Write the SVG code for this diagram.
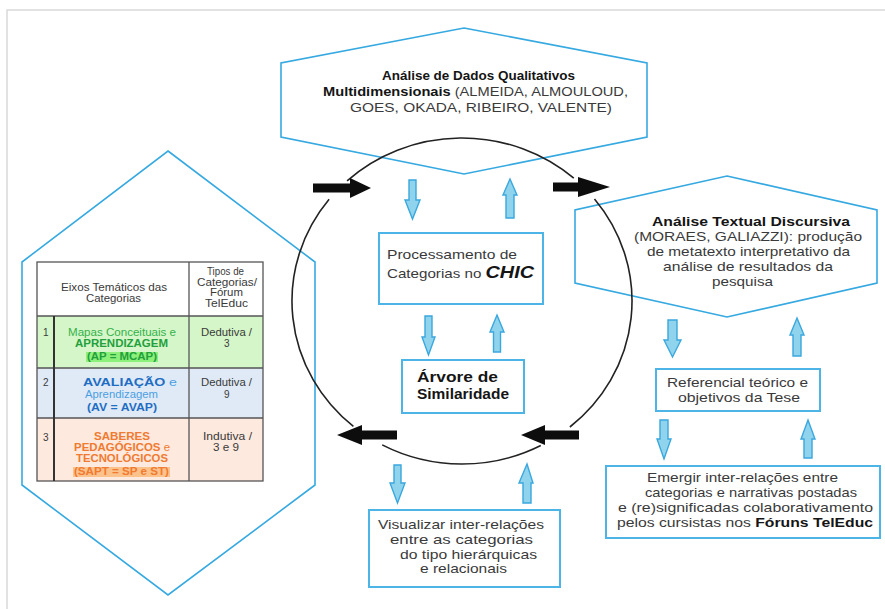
<svg xmlns="http://www.w3.org/2000/svg" width="885" height="609" viewBox="0 0 885 609">
<style>
text{font-family:"Liberation Sans",Arial,sans-serif;fill:#3a3a3a}
.b{font-weight:bold;fill:#151515}
.hex{fill:#fff;stroke:#36a9e1;stroke-width:1.6}
.box{fill:#fff;stroke:#4cb4e7;stroke-width:2}
.ba{fill:#8fd4ec;stroke:#3aa7de;stroke-width:1.4}
.ka{fill:#0d0d0d}
.circ{fill:none;stroke:#222;stroke-width:1.6}
.t13{font-size:13px}
.tb{font-size:10px}
.g{fill:#35b24b}.gb{fill:#22a03c;font-weight:bold}
.bl{fill:#4c9fe2}.blb{fill:#1f6ec3;font-weight:bold}
.or{fill:#f07a30}.orb{fill:#f07a30;font-weight:bold}
.tl{stroke:#555;stroke-width:1.3;fill:none}
</style>
<rect x="0" y="0" width="885" height="609" fill="#fff"/>
<rect x="7" y="10" width="900" height="620" fill="none" stroke="#d9d9d9" stroke-width="1.5"/>

<g id="hex-left">
<polygon class="hex" points="168,151 315,262 315,485 168,595 22,485 22,262"/>
</g>
<g id="table">
<rect x="37" y="262" width="226" height="54" fill="#fff"/>
<rect x="37" y="316" width="226" height="52" fill="#d4f6c8"/>
<rect x="37" y="368" width="226" height="50" fill="#dfeaf6"/>
<rect x="37" y="418" width="226" height="63" fill="#fde9de"/>
<rect x="86" y="352" width="72" height="10" fill="#8cf07a"/>
<rect x="73" y="467" width="97" height="10" fill="#fcc28c"/>
<rect class="tl" x="37" y="262" width="226" height="219"/>
<line class="tl" x1="189" y1="262" x2="189" y2="481"/>
<line class="tl" x1="37" y1="316" x2="263" y2="316"/>
<line class="tl" x1="37" y1="368" x2="263" y2="368"/>
<line class="tl" x1="37" y1="418" x2="263" y2="418"/>
<line x1="54" y1="316" x2="54" y2="481" stroke="#333" stroke-width="2"/>
<g class="tb" lengthAdjust="spacingAndGlyphs">
<text x="61" y="291" textLength="106" lengthAdjust="spacingAndGlyphs">Eixos Temáticos das</text>
<text x="86" y="302" textLength="55" lengthAdjust="spacingAndGlyphs">Categorias</text>
<text x="207" y="275" textLength="37" lengthAdjust="spacingAndGlyphs">Tipos de</text>
<text x="197" y="285.5" textLength="60" lengthAdjust="spacingAndGlyphs">Categorias/</text>
<text x="210" y="296" textLength="33" lengthAdjust="spacingAndGlyphs">Fórum</text>
<text x="205" y="306.5" textLength="43" lengthAdjust="spacingAndGlyphs">TelEduc</text>
<text x="43" y="336">1</text>
<text x="68" y="336" class="g" textLength="108" lengthAdjust="spacingAndGlyphs">Mapas Conceituais e</text>
<text x="75" y="347" class="gb" textLength="93" lengthAdjust="spacingAndGlyphs">APRENDIZAGEM</text>
<text x="87" y="360" class="gb" textLength="70" lengthAdjust="spacingAndGlyphs">(AP = MCAP)</text>
<text x="201" y="336" textLength="51" lengthAdjust="spacingAndGlyphs">Dedutiva /</text>
<text x="224" y="347">3</text>
<text x="43" y="386">2</text>
<text x="83" y="386" textLength="94" lengthAdjust="spacingAndGlyphs"><tspan class="blb">AVALIAÇÃO</tspan><tspan class="bl"> e</tspan></text>
<text x="85" y="398" class="bl" textLength="73" lengthAdjust="spacingAndGlyphs">Aprendizagem</text>
<text x="87" y="411" class="blb" textLength="70" lengthAdjust="spacingAndGlyphs">(AV = AVAP)</text>
<text x="201" y="386" textLength="51" lengthAdjust="spacingAndGlyphs">Dedutiva /</text>
<text x="224" y="398">9</text>
<text x="43" y="441">3</text>
<text x="94" y="440" class="orb" textLength="56" lengthAdjust="spacingAndGlyphs">SABERES</text>
<text x="74" y="451" textLength="96" lengthAdjust="spacingAndGlyphs"><tspan class="orb">PEDAGÓGICOS</tspan><tspan class="or"> e</tspan></text>
<text x="76" y="462" class="orb" textLength="92" lengthAdjust="spacingAndGlyphs">TECNOLÓGICOS</text>
<text x="74" y="475" class="orb" textLength="95" lengthAdjust="spacingAndGlyphs">(SAPT = SP e ST)</text>
<text x="203" y="440" textLength="49" lengthAdjust="spacingAndGlyphs">Indutiva /</text>
<text x="213" y="451" textLength="26" lengthAdjust="spacingAndGlyphs">3 e 9</text>
</g>
</g>

<g id="hex-top">
<polygon class="hex" points="464,28 647,63 647,137 464,174 281,137 281,63"/>
<g class="t13">
<text x="382" y="80" class="b" textLength="193" lengthAdjust="spacingAndGlyphs">Análise de Dados Qualitativos</text>
<text x="323" y="96" textLength="305" lengthAdjust="spacingAndGlyphs"><tspan class="b">Multidimensionais</tspan> (ALMEIDA, ALMOULOUD,</text>
<text x="350" y="112" textLength="262" lengthAdjust="spacingAndGlyphs">GOES, OKADA, RIBEIRO, VALENTE)</text>
</g>
</g>

<g id="hex-right">
<polygon class="hex" points="727,176 877,210 877,283 727,317 575,283 575,210"/>
<g class="t13">
<text x="652" y="226" class="b" textLength="198" lengthAdjust="spacingAndGlyphs">Análise Textual Discursiva</text>
<text x="634" y="241" textLength="228" lengthAdjust="spacingAndGlyphs">(MORAES, GALIAZZI): produção</text>
<text x="647" y="256" textLength="203" lengthAdjust="spacingAndGlyphs">de metatexto interpretativo da</text>
<text x="663" y="271" textLength="170" lengthAdjust="spacingAndGlyphs">análise de resultados da</text>
<text x="712" y="286" textLength="61" lengthAdjust="spacingAndGlyphs">pesquisa</text>
</g>
</g>

<g id="cycle">
<path class="circ" d="M347.1,180.8 A170,163 0 0 1 573.8,178.2"/>
<path class="circ" d="M594.5,198.9 A170,163 0 0 1 569.9,427"/>
<path class="circ" d="M540.8,445.5 A170,163 0 0 1 382.2,444.9"/>
<path class="circ" d="M353.4,426.4 A170,163 0 0 1 329.1,199.3"/>
</g>

<g id="box-chic">
<rect class="box" x="379" y="233" width="164" height="71"/>
<text class="t13" x="387" y="259" textLength="130" lengthAdjust="spacingAndGlyphs">Processamento de</text>
<text class="t13" x="387" y="278" textLength="147" lengthAdjust="spacingAndGlyphs">Categorias no <tspan class="b" font-style="italic" font-size="17">CHIC</tspan></text>
</g>

<g id="box-arvore">
<rect class="box" x="402" y="360" width="122" height="53"/>
<text class="b" font-size="15" x="417" y="382" textLength="81" lengthAdjust="spacingAndGlyphs">Árvore de</text>
<text class="b" font-size="15" x="417" y="399" textLength="92" lengthAdjust="spacingAndGlyphs">Similaridade</text>
</g>

<g id="box-referencial">
<rect class="box" x="656" y="369" width="164" height="42"/>
<text class="t13" x="667" y="387" textLength="141" lengthAdjust="spacingAndGlyphs">Referencial teórico e</text>
<text class="t13" x="678" y="402" textLength="122" lengthAdjust="spacingAndGlyphs">objetivos da Tese</text>
</g>

<g id="box-emergir">
<rect class="box" x="606" y="466" width="274" height="72"/>
<g class="t13">
<text x="647" y="482" textLength="191" lengthAdjust="spacingAndGlyphs">Emergir inter-relações entre</text>
<text x="645" y="497" textLength="212" lengthAdjust="spacingAndGlyphs">categorias e narrativas postadas</text>
<text x="618" y="512" textLength="255" lengthAdjust="spacingAndGlyphs">e (re)significadas colaborativamento</text>
<text x="617" y="527" textLength="256" lengthAdjust="spacingAndGlyphs">pelos cursistas nos <tspan class="b">Fóruns TelEduc</tspan></text>
</g>
</g>

<g id="box-visualizar">
<rect class="box" x="369" y="510" width="191" height="77"/>
<g class="t13">
<text x="378" y="529" textLength="166" lengthAdjust="spacingAndGlyphs">Visualizar inter-relações</text>
<text x="390" y="544" textLength="143" lengthAdjust="spacingAndGlyphs">entre as categorias</text>
<text x="400" y="559" textLength="137" lengthAdjust="spacingAndGlyphs">do tipo hierárquicas</text>
<text x="420" y="573" textLength="87" lengthAdjust="spacingAndGlyphs">e relacionais</text>
</g>
</g>

<g id="connectors">
<polygon class="ka" points="313,183.5 350,183.5 350,178 371,188 350,198 350,192.5 313,192.5"/>
<polygon class="ka" points="553,182.5 578,182.5 578,177 610,187 578,197 578,191.5 553,191.5"/>
<polygon class="ka" points="397,430.5 362,430.5 362,425 337,435 362,445 362,439.5 397,439.5"/>
<polygon class="ka" points="579,430.5 545,430.5 545,425 521,435 545,445 545,439.5 579,439.5"/>
<polygon class="ba" points="409,180 416,180 416,200 420,200 412.5,219 405,200 409,200"/>
<polygon class="ba" points="510,179 517,195 514,195 514,218 506,218 506,195 503,195"/>
<polygon class="ba" points="425,316 432,316 432,337 435,337 428.5,355 422,337 425,337"/>
<polygon class="ba" points="497,315 504,332 500.5,332 500.5,352 493.5,352 493.5,332 490,332"/>
<polygon class="ba" points="668,320 677,320 677,340 681,340 672.5,357 664,340 668,340"/>
<polygon class="ba" points="797,318 804,335 801,335 801,356 793,356 793,335 790,335"/>
<polygon class="ba" points="660,420 668,420 668,439 671,439 664,459 657,439 660,439"/>
<polygon class="ba" points="808,420 815,439 812,439 812,458 804,458 804,439 801,439"/>
<polygon class="ba" points="394,465 401,465 401,483 405,483 397.5,503 390,483 394,483"/>
<polygon class="ba" points="527,464 533,483 531,483 531,503 523,503 523,483 519,483"/>
</g>
</svg>
